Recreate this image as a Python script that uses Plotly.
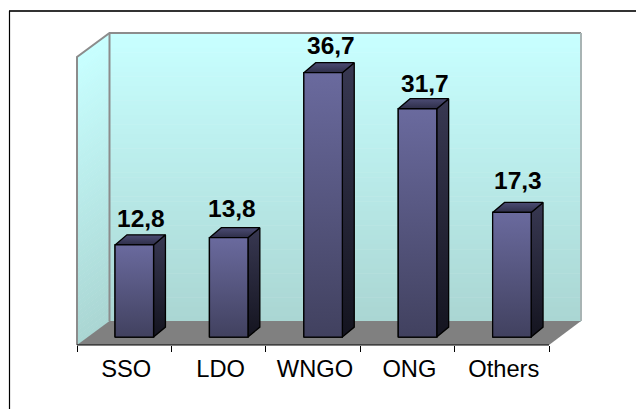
import plotly.graph_objects as go

categories = ["SSO", "LDO", "WNGO", "ONG", "Others"]
values = [12.8, 13.8, 36.7, 31.7, 17.3]
value_labels = ["12,8", "13,8", "36,7", "31,7", "17,3"]
positions = [0, 1, 2, 3, 4]
boundaries = [-0.5, 0.5, 1.5, 2.5, 3.5, 4.5]
label_dx = [7, 3, 8, 7, 6]
label_dy = [1, 4, 2, 0, 6]

W, H = 636, 409
L, R, T, B = 77, 581, 33, 344.7   # plot box in pixels
DX, DY = 32.5, 24.0               # depth of the chart box in pixels
BAR_W = 0.408
BAR_SHIFT = 0.107
DEPTH_X, DEPTH_Y = 0.126, 1.39    # bar depth in axis units


def mix(a, b, t):
    return "rgb(%d,%d,%d)" % tuple(round(a[i] + (b[i] - a[i]) * t) for i in range(3))


def pxx(v):
    return (v - L) / (R - L)


def pyy(v):
    return (B - v) / (B - T)


WALL_TOP = (200, 255, 255)
WALL_BOT = (170, 214, 211)
shapes = []
N = 60
band_h = (321 - 33) / N
for i in range(N):
    y0 = 33 + i * band_h
    y1 = y0 + band_h + 0.5
    c = mix(WALL_TOP, WALL_BOT, i / (N - 1))
    shapes.append(dict(type="rect", xref="paper", yref="paper", layer="below",
                       x0=pxx(L + DX), x1=pxx(R), y0=pyy(y0), y1=pyy(y1),
                       fillcolor=c, line_width=0))
    shapes.append(dict(type="path", xref="paper", yref="paper", layer="below",
                       path="M %f %f L %f %f L %f %f L %f %f Z" % (
                           pxx(L), pyy(y0 + DY), pxx(L + DX), pyy(y0),
                           pxx(L + DX), pyy(y1), pxx(L), pyy(y1 + DY)),
                       fillcolor=c, line_width=0))

# floor
shapes.append(dict(type="path", xref="paper", yref="paper", layer="below",
                   path="M %f %f L %f %f L %f %f L %f %f Z" % (
                       pxx(L), pyy(B), pxx(549), pyy(B), pxx(R), pyy(B - DY), pxx(L + DX), pyy(B - DY)),
                   fillcolor="#808080", line_width=0))
# wall edges
edge = dict(color="#8c8c8c", width=2)
shapes.append(dict(type="path", xref="paper", yref="paper", layer="below",
                   path="M %f %f L %f %f L %f %f L %f %f" % (
                       pxx(L), pyy(B), pxx(L), pyy(T + DY), pxx(L + DX), pyy(T), pxx(R), pyy(T)),
                   line=edge))
shapes.append(dict(type="line", xref="paper", yref="paper", layer="below",
                   x0=pxx(L + DX), x1=pxx(L + DX), y0=pyy(T), y1=pyy(B - DY), line=edge))
shapes.append(dict(type="line", xref="paper", yref="paper", layer="below",
                   x0=pxx(R), x1=pxx(R), y0=pyy(T), y1=pyy(B - DY),
                   line=dict(color="#a8b4b4", width=2)))
# category axis line
shapes.append(dict(type="line", xref="paper", yref="paper",
                   x0=pxx(L), x1=pxx(549), y0=0, y1=0, line=dict(color="#000000", width=1.2)))
# outer frame
shapes.append(dict(type="line", xref="paper", yref="paper", x0=pxx(9), x1=pxx(W), y0=pyy(11), y1=pyy(11),
                   line=dict(color="#333333", width=2)))
shapes.append(dict(type="line", xref="paper", yref="paper", x0=pxx(9.5), x1=pxx(9.5), y0=pyy(11), y1=pyy(H),
                   line=dict(color="#000000", width=1.2)))

fig = go.Figure()
fig.add_trace(go.Bar(x=positions, y=values, width=BAR_W, offset=-BAR_W / 2 + BAR_SHIFT,
                     marker=dict(color="#55557f", line=dict(color="#000000", width=1.3)),
                     hoverinfo="skip", showlegend=False))

for i, v in zip(positions, values):
    x0 = i - BAR_W / 2 + BAR_SHIFT
    x1 = x0 + BAR_W
    faces = [
        ([x1, x1 + DEPTH_X, x1 + DEPTH_X, x1, x1], [0, DEPTH_Y, v + DEPTH_Y, v, 0],
         [[0, "#14141f"], [1, "#383852"]]),
        ([x0, x1, x1 + DEPTH_X, x0 + DEPTH_X, x0], [v, v, v + DEPTH_Y, v + DEPTH_Y, v],
         [[0, "#2e2e48"], [1, "#4c4c74"]]),
        ([x0, x1, x1, x0, x0], [0, 0, v, v, 0],
         [[0, "#41415f"], [1, "#6a6a9e"]]),
    ]
    for fx, fy, cs in faces:
        fig.add_trace(go.Scatter(x=fx, y=fy, mode="lines", fill="toself",
                                 fillgradient=dict(type="vertical", colorscale=cs),
                                 line=dict(color="#000000", width=1.3),
                                 hoverinfo="skip", showlegend=False))

annotations = [dict(x=i + BAR_SHIFT, y=v + DEPTH_Y, text="<b>%s</b>" % t, showarrow=False,
                    xref="x", yref="y", yanchor="bottom", xshift=dx, yshift=dy,
                    font=dict(family="Liberation Sans", size=24.5, color="#000000"))
               for i, v, t, dx, dy in zip(positions, values, value_labels, label_dx, label_dy)]

fig.update_layout(
    width=W, height=H, autosize=False,
    margin=dict(l=L, r=W - R, t=T, b=H - B, pad=0),
    paper_bgcolor="#ffffff", plot_bgcolor="rgba(0,0,0,0)",
    showlegend=False, shapes=shapes, annotations=annotations,
    barmode="overlay",
    xaxis=dict(type="linear", range=[-0.5, 4.5 + 32.0 / 94.4],
               tickmode="array", tickvals=positions, ticktext=categories,
               ticks="", showgrid=False, zeroline=False, showline=False, fixedrange=True,
               minor=dict(tickmode="array", tickvals=boundaries, ticks="outside", ticklen=6,
                          tickwidth=1.2, tickcolor="#000000", showgrid=False),
               ticklabelshift=2, ticklabelstandoff=7,
               tickfont=dict(family="Liberation Sans", size=23.7, color="#000000")),
    yaxis=dict(range=[-7.9 / 7.197, (336.8 - 33) / 7.197], visible=False, fixedrange=True),
)

fig.write_html("out.html", config=dict(displayModeBar=False),
               post_script="document.body.style.margin='0';document.body.style.overflow='hidden';")
